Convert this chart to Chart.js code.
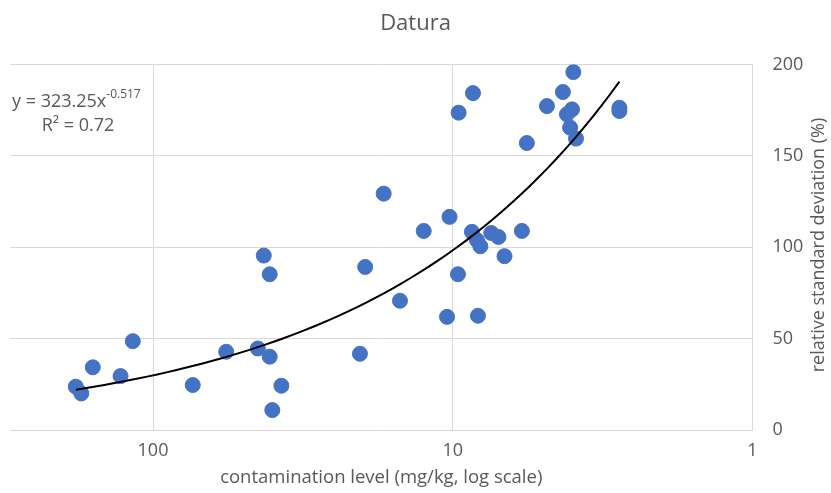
<!DOCTYPE html>
<html>
<head>
<meta charset="utf-8">
<script src="https://cdn.jsdelivr.net/npm/chart.js@4"></script>
<style>
  html, body { margin: 0; padding: 0; background: #fff; }
  #wrap { width: 831px; height: 493px; position: relative; }
</style>
</head>
<body>
<div id="wrap"><canvas id="datura-chart"></canvas></div>
<script>
// contamination level (mg/kg) and relative standard deviation (%)
var conc = [181, 173.5, 158.8, 128.3, 116.8, 73.7, 57.0, 44.7, 40.8, 37.3, 40.0, 42.7, 40.8,
    17.0, 10.25, 12.5, 8.63, 8.30, 8.09, 7.44, 7.04, 5.88, 6.72, 19.6, 9.61, 15.0, 10.45, 8.24, 20.4,
    3.96, 8.56, 9.56, 4.29, 4.85, 4.00, 4.16, 4.06, 3.88, 5.66, 2.78, 2.78];
var rsd = [23.7, 20.0, 34.3, 29.5, 48.6, 24.6, 42.8, 44.6, 40.1, 24.2, 10.9, 95.4, 85.2,
    129.3, 116.6, 108.9, 108.4, 103.8, 100.5, 107.8, 105.6, 108.9, 95.1, 89.2, 85.2, 70.7, 61.9, 62.5, 41.7,
    195.8, 184.3, 173.6, 184.9, 177.2, 175.4, 172.7, 165.4, 159.4, 157.0, 176.3, 174.5];
var xTicks = [100, 10, 1];
var yTicks = [0, 50, 100, 150, 200];

// power trendline shown on the chart: y = 323.25 x^-0.517
var trendA = 323.25;
var trendB = -0.517;

var scatterData = conc.map(function(x, i) { return {x: x, y: rsd[i]}; });

var xLo = Math.min.apply(null, conc);
var xHi = Math.max.apply(null, conc);
var trendData = [];
for (var i = 0; i <= 60; i++) {
    var lx = Math.log10(xLo) + (Math.log10(xHi) - Math.log10(xLo)) * i / 60;
    var xv = Math.pow(10, lx);
    trendData.push({x: xv, y: trendA * Math.pow(xv, trendB)});
}

var grey = '#595959';
var gridGrey = '#d9d9d9';
var fontFam = '"Open Sans", sans-serif';

// y axis title reads bottom-to-top on the right side, plus the trendline label
var extraText = {
    id: 'extraText',
    afterDraw: function(chart) {
        var ctx = chart.ctx;
        ctx.save();
        ctx.fillStyle = grey;
        ctx.font = '18px ' + fontFam;
        ctx.textAlign = 'center';
        ctx.textBaseline = 'middle';
        ctx.translate(819, 245);
        ctx.rotate(-Math.PI / 2);
        ctx.fillText('relative standard deviation (%)', 0, 0);
        ctx.restore();

        ctx.save();
        ctx.fillStyle = grey;
        ctx.textBaseline = 'alphabetic';
        ctx.textAlign = 'left';
        ctx.font = '18px ' + fontFam;
        var main = 'y = ' + trendA + 'x';
        ctx.fillText(main, 12, 107);
        var w = ctx.measureText(main).width;
        ctx.font = '12px ' + fontFam;
        ctx.fillText(String(trendB), 12 + w, 98);
        ctx.font = '18px ' + fontFam;
        ctx.textAlign = 'center';
        ctx.fillText('R\u00b2 = 0.72', 78, 131);
        ctx.restore();
    }
};

var ctx = document.getElementById('datura-chart').getContext('2d');
var myChart = new Chart(ctx, {
    type: 'scatter',
    data: {
        datasets: [{
            label: 'Datura',
            data: scatterData,
            backgroundColor: '#4472c4',
            borderColor: '#4472c4',
            pointRadius: 7.5,
            pointHoverRadius: 7.5,
            order: 2
        }, {
            type: 'line',
            label: 'Power trend',
            data: trendData,
            borderColor: '#000000',
            borderWidth: 2,
            pointRadius: 0,
            fill: false,
            tension: 0,
            order: 1
        }]
    },
    options: {
        maintainAspectRatio: false,
        responsive: true,
        animation: false,
        layout: {
            padding: {left: 10, right: 10, top: 0, bottom: 0}
        },
        plugins: {
            legend: { display: false },
            tooltip: { enabled: false },
            title: {
                display: true,
                text: 'Datura',
                color: grey,
                font: { family: fontFam, size: 22, weight: 'normal', lineHeight: 1.2 },
                padding: { top: 11, bottom: 27 }
            }
        },
        scales: {
            x: {
                type: 'logarithmic',
                position: 'bottom',
                min: 1,
                max: 300,
                reverse: true,
                afterBuildTicks: function(scale) {
                    scale.ticks = xTicks.map(function(v) { return {value: v}; });
                },
                afterFit: function(scale) { scale.height = 63; },
                grid: { color: gridGrey, lineWidth: 1, drawTicks: false },
                border: { display: false },
                ticks: {
                    color: grey,
                    padding: 10,
                    font: { family: fontFam, size: 18 },
                    autoSkip: false,
                    maxRotation: 0,
                    callback: function(v) { return String(v); }
                },
                title: {
                    display: true,
                    text: 'contamination level (mg/kg, log scale)',
                    color: grey,
                    font: { family: fontFam, size: 18.5 },
                    padding: { top: 2 }
                }
            },
            y: {
                position: 'right',
                min: 0,
                max: 200,
                afterBuildTicks: function(scale) {
                    scale.ticks = yTicks.map(function(v) { return {value: v}; });
                },
                afterFit: function(scale) { scale.width = 68.5; },
                grid: { color: gridGrey, lineWidth: 1, drawTicks: false },
                border: { display: false },
                ticks: {
                    color: grey,
                    padding: 20,
                    font: { family: fontFam, size: 18 }
                }
            }
        }
    },
    plugins: [extraText]
});
</script>
</body>
</html>
